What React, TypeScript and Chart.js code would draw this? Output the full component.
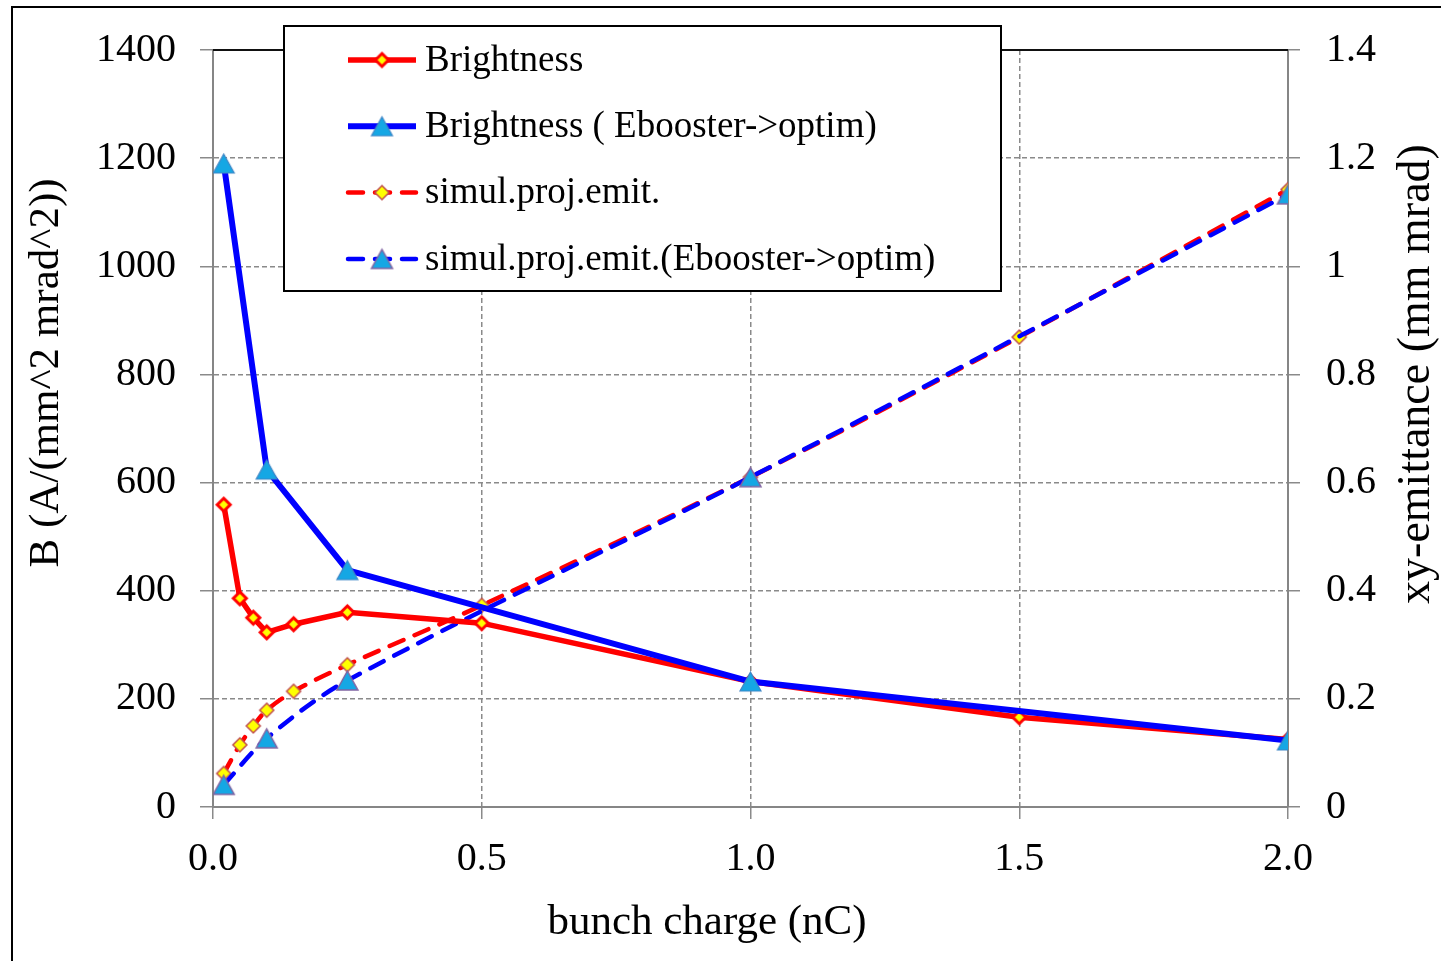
import { useEffect, useRef } from 'react';
import { Chart, registerables } from 'chart.js';
Chart.register(...registerables);

// ---- data ----
const chargeMain = [0.02, 0.05, 0.075, 0.1, 0.15, 0.25, 0.5, 1.0, 1.5, 2.0];
const brightness = [559, 386, 350, 323, 338, 360, 340, 232, 166, 125];
const emittance = [0.062, 0.115, 0.15, 0.179, 0.214, 0.263, 0.373, 0.61, 0.869, 1.142];
const chargeOptim = [0.02, 0.1, 0.25, 1.0, 2.0];
const brightnessOptim = [1190, 624, 438, 232, 123];
const emittanceOptim = [0.041, 0.127, 0.234, 0.61, 1.133];
const seriesNames = [
  'Brightness',
  'Brightness ( Ebooster->optim)',
  'simul.proj.emit.',
  'simul.proj.emit.(Ebooster->optim)',
];
const xTitle = 'bunch charge (nC)';
const yLeftTitle = 'B (A/(mm^2 mrad^2))';
const yRightTitle = 'xy-emittance (mm mrad)';

const FONT = '"Liberation Serif", "Times New Roman", serif';
const RED = '#ff0000';
const BLUE = '#0000ff';
const YELLOW = '#ffff00';
const SKY = '#15a7e4';
const DASH = [15, 12];

function makeDiamond(w: number, h: number, stroke: string, lw: number) {
  const c = document.createElement('canvas');
  const pad = Math.ceil(lw) + 1;
  c.width = w + pad * 2;
  c.height = h + pad * 2;
  const g = c.getContext('2d')!;
  const cx = c.width / 2, cy = c.height / 2;
  g.beginPath();
  g.moveTo(cx, cy - h / 2);
  g.lineTo(cx + w / 2, cy);
  g.lineTo(cx, cy + h / 2);
  g.lineTo(cx - w / 2, cy);
  g.closePath();
  g.fillStyle = YELLOW;
  g.fill();
  g.lineWidth = lw;
  g.strokeStyle = stroke;
  g.lineJoin = 'miter';
  g.stroke();
  return c;
}

function makeTriangle(w: number, h: number, stroke: string, lw: number) {
  const c = document.createElement('canvas');
  const pad = Math.ceil(lw) + 1;
  c.width = w + pad * 2;
  c.height = h + pad * 2;
  const g = c.getContext('2d')!;
  const cx = c.width / 2, cy = c.height / 2;
  g.beginPath();
  g.moveTo(cx, cy - h / 2);
  g.lineTo(cx + w / 2, cy + h / 2);
  g.lineTo(cx - w / 2, cy + h / 2);
  g.closePath();
  g.fillStyle = SKY;
  g.fill();
  g.lineWidth = lw;
  g.strokeStyle = stroke;
  g.stroke();
  return c;
}

export default function App() {
  const ref = useRef<HTMLCanvasElement | null>(null);

  useEffect(() => {
    const canvas = ref.current;
    if (!canvas) return;

    const diamondSolid = makeDiamond(13, 13, RED, 3);
    const diamondDash = makeDiamond(14, 14, '#c0504d', 1.5);
    const triSolid = makeTriangle(21, 19, '#3f86c6', 1.2);
    const triDash = makeTriangle(21, 19, '#8064a2', 1.5);

    const legendItems = [
      { color: RED, width: 5.5, dash: [] as number[], marker: diamondSolid },
      { color: BLUE, width: 6, dash: [] as number[], marker: triSolid },
      { color: RED, width: 4.5, dash: DASH, marker: diamondDash },
      { color: BLUE, width: 4.5, dash: DASH, marker: triDash },
    ];

    const decor = {
      id: 'decor',
      afterDraw(chart: any) {
        const ctx = chart.ctx as CanvasRenderingContext2D;
        const ca = chart.chartArea;
        ctx.save();
        // outer frame
        ctx.strokeStyle = '#000';
        ctx.lineWidth = 2;
        ctx.strokeRect(12, 7, 1500, 1000);
        // top plot border
        ctx.beginPath();
        ctx.lineWidth = 2;
        ctx.strokeStyle = '#111';
        ctx.moveTo(ca.left, ca.top);
        ctx.lineTo(ca.right, ca.top);
        ctx.stroke();

        // titles
        ctx.fillStyle = '#000';
        ctx.font = `43px ${FONT}`;
        ctx.textAlign = 'center';
        ctx.textBaseline = 'alphabetic';
        ctx.fillText(xTitle, 707, 934);
        ctx.textBaseline = 'middle';
        ctx.save();
        ctx.translate(47, 373);
        ctx.rotate(-Math.PI / 2);
        ctx.fillText(yLeftTitle, 0, 0);
        ctx.restore();
        ctx.save();
        ctx.font = `46px ${FONT}`;
        ctx.translate(1417, 374);
        ctx.rotate(-Math.PI / 2);
        ctx.fillText(yRightTitle, 0, 0);
        ctx.restore();

        // legend
        const bx = 284, by = 26, bw = 717, bh = 265;
        ctx.fillStyle = '#fff';
        ctx.fillRect(bx, by, bw, bh);
        ctx.strokeStyle = '#000';
        ctx.lineWidth = 2;
        ctx.strokeRect(bx, by, bw, bh);
        ctx.font = `37px ${FONT}`;
        ctx.textAlign = 'left';
        ctx.textBaseline = 'middle';
        legendItems.forEach((it, i) => {
          const y = 60 + i * 66.3;
          ctx.save();
          ctx.strokeStyle = it.color;
          ctx.lineWidth = it.width;
          ctx.lineCap = it.dash.length ? 'round' : 'butt';
          ctx.setLineDash(it.dash);
          ctx.beginPath();
          ctx.moveTo(348, y);
          ctx.lineTo(416, y);
          ctx.stroke();
          ctx.restore();
          const m = it.marker;
          ctx.drawImage(m, 382 - m.width / 2, y - m.height / 2);
          ctx.fillStyle = '#000';
          ctx.fillText(seriesNames[i], 425, y + 1);
        });
        ctx.restore();
      },
    };

    const gridColor = '#8a8a8a';
    const chart = new Chart(canvas, {
      type: 'line',
      data: {
        datasets: [
          {
            label: seriesNames[0],
            data: chargeMain.map((x, i) => ({ x, y: brightness[i] })),
            yAxisID: 'y',
            borderColor: RED,
            borderWidth: 5.5,
            pointStyle: diamondSolid,
            tension: 0,
            order: 2,
          },
          {
            label: seriesNames[1],
            data: chargeOptim.map((x, i) => ({ x, y: brightnessOptim[i] })),
            yAxisID: 'y',
            borderColor: BLUE,
            borderWidth: 6,
            pointStyle: triSolid,
            tension: 0,
            order: 1,
          },
          {
            label: seriesNames[2],
            data: chargeMain.map((x, i) => ({ x, y: emittance[i] })),
            yAxisID: 'y1',
            borderColor: RED,
            borderWidth: 4.5,
            borderDash: DASH,
            borderCapStyle: 'round',
            pointStyle: diamondDash,
            tension: 0.33,
            order: 4,
          },
          {
            label: seriesNames[3],
            data: chargeOptim.map((x, i) => ({ x, y: emittanceOptim[i] })),
            yAxisID: 'y1',
            borderColor: BLUE,
            borderWidth: 4.5,
            borderDash: DASH,
            borderCapStyle: 'round',
            pointStyle: triDash,
            tension: 0.33,
            order: 3,
          },
        ],
      },
      options: {
        animation: false,
        responsive: false,
        maintainAspectRatio: false,
        layout: { padding: { top: 47, left: 0, right: 0, bottom: 0 } },
        plugins: { legend: { display: false }, tooltip: { enabled: false } },
        elements: { point: { radius: 8, hoverRadius: 8 }, line: { fill: false } },
        scales: {
          x: {
            type: 'linear',
            min: 0,
            max: 2,
            afterFit: (s: any) => { s.height = 154; },
            ticks: {
              stepSize: 0.5,
              color: '#000',
              font: { family: FONT, size: 40 },
              padding: 16,
              callback: (v: any) => Number(v).toFixed(1),
            },
            grid: { color: gridColor, lineWidth: 1.5, tickLength: 12, tickColor: gridColor, tickBorderDash: [] },
            border: { display: true, color: '#868686', width: 2, dash: [5, 3] },
          },
          y: {
            type: 'linear',
            position: 'left',
            min: 0,
            max: 1400,
            afterFit: (s: any) => { s.width = 213; },
            ticks: {
              stepSize: 200,
              color: '#000',
              font: { family: FONT, size: 40 },
              padding: 24,
              callback: (v: any) => String(Math.round(Number(v))),
            },
            grid: { color: gridColor, lineWidth: 1.5, tickLength: 13, tickColor: gridColor, tickBorderDash: [] },
            border: { display: true, color: '#868686', width: 2, dash: [5, 3] },
          },
          y1: {
            type: 'linear',
            position: 'right',
            min: 0,
            max: 1.4,
            afterFit: (s: any) => { s.width = 153; },
            ticks: {
              stepSize: 0.2,
              color: '#000',
              font: { family: FONT, size: 40 },
              padding: 26,
              callback: (v: any) => String(Number(Number(v).toFixed(1))),
            },
            grid: { drawOnChartArea: false, color: gridColor, lineWidth: 1.5, tickLength: 12, tickColor: gridColor },
            border: { display: true, color: '#868686', width: 2 },
          },
        },
      },
      plugins: [decor],
    } as any);

    return () => chart.destroy();
  }, []);

  return (
    <div style={{ position: 'fixed', left: 0, top: 0, width: 1441, height: 961, background: '#fff' }}>
      <canvas ref={ref} width={1441} height={961} style={{ display: 'block', width: 1441, height: 961 }} />
    </div>
  );
}
